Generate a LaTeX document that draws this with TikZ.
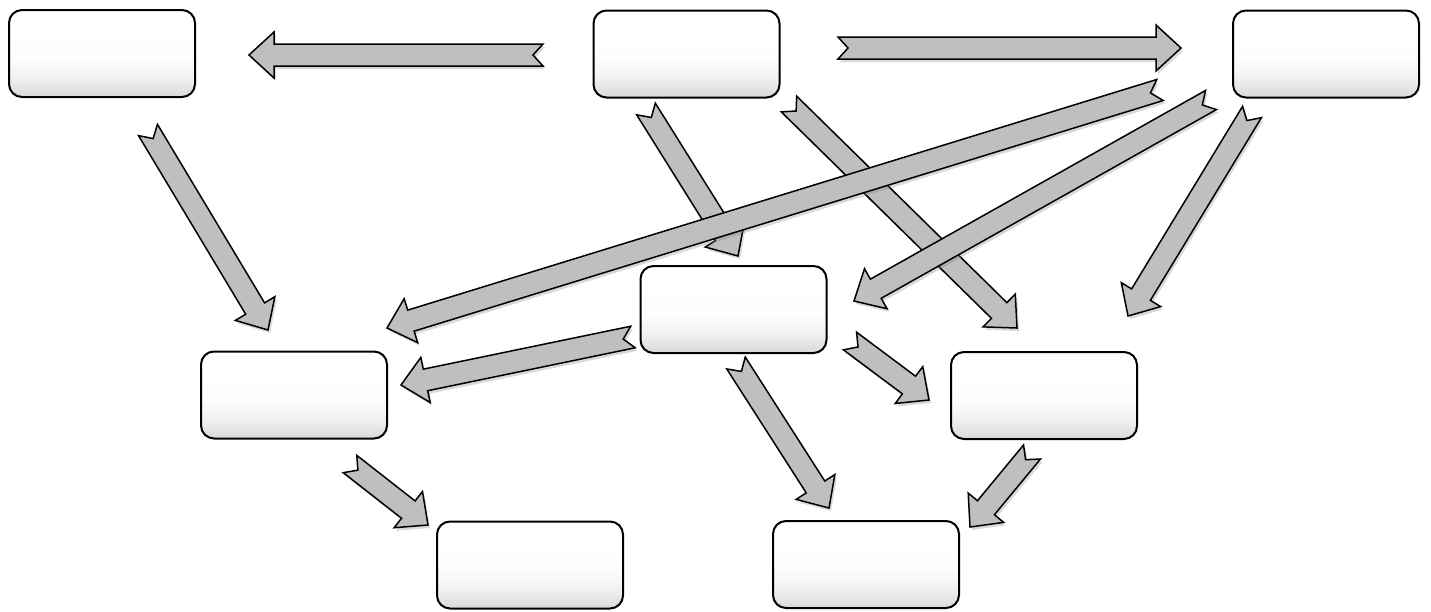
\documentclass[tikz,border=0pt]{standalone}
\usetikzlibrary{calc,shadows}
\definecolor{arrowfill}{RGB}{191,191,191}
\pgfdeclareverticalshading{boxshade}{100bp}{color(0bp)=(black!15); color(25bp)=(black!15); color(37bp)=(black!5); color(47bp)=(black!1); color(60bp)=(white); color(100bp)=(white)}
\tikzset{
  box/.style={draw=black, line width=2pt, rounded corners=13pt,
    minimum width=186pt, minimum height=87pt, inner sep=0pt,
    shading=boxshade},
  blockarrow/.style={draw=black, fill=arrowfill, line width=1.5pt, line join=miter,
    drop shadow={opacity=0.3, shadow xshift=2pt, shadow yshift=-3pt}},
}
\newcommand\blockarr[2]{%
  \coordinate (qq) at ($(#2)!25pt!(#1)$);
  \path[blockarrow] ($(#1)!11pt!90:(#2)$) -- ($(qq)!11pt!90:(#2)$)
    -- ($(qq)!23pt!90:(#2)$) -- (#2) -- ($(qq)!23pt!-90:(#2)$)
    -- ($(qq)!11pt!-90:(#2)$) -- ($(#1)!11pt!-90:(#2)$)
    -- ($(#1)!10pt!(#2)$) -- cycle;
}
\begin{document}
\begin{tikzpicture}[x=1pt,y=-1pt]
\useasboundingbox (0,0) rectangle (1431,611);
% boxes
\node[box] (A) at (102,53.5) {};
\node[box] (B) at (686.5,54) {};
\node[box] (C) at (1326,54) {};
\node[box] (D) at (733.5,309.5) {};
\node[box] (E) at (294,395) {};
\node[box] (F) at (1044,395.5) {};
\node[box] (G) at (530,565) {};
\node[box] (H) at (866,564.5) {};
% arrow ends
\coordinate (BAs) at (543,55);   \coordinate (BAe) at (249,55);
\coordinate (BCs) at (838,48);   \coordinate (BCe) at (1181,48);
\coordinate (AEs) at (148,130);  \coordinate (AEe) at (268,330);
\coordinate (BDs) at (646,109);  \coordinate (BDe) at (738,256);
\coordinate (BFs) at (789,104);  \coordinate (BFe) at (1017,328);
\coordinate (CEs) at (1160,90);  \coordinate (CEe) at (387,328);
\coordinate (CDs) at (1211,100); \coordinate (CDe) at (854,301);
\coordinate (CFs) at (1252,112); \coordinate (CFe) at (1128,316);
\coordinate (DEs) at (633,337);  \coordinate (DEe) at (401,385);
\coordinate (DFs) at (850,341);  \coordinate (DFe) at (929,400);
\coordinate (DHs) at (736,363);  \coordinate (DHe) at (829,508);
\coordinate (FHs) at (1032,452); \coordinate (FHe) at (970,527);
\coordinate (EGs) at (350,464);  \coordinate (EGe) at (428,525);
% arrows
\blockarr{BAs}{BAe}
\blockarr{BCs}{BCe}
\blockarr{AEs}{AEe}
\blockarr{BDs}{BDe}
\blockarr{BFs}{BFe}
\blockarr{CDs}{CDe}
\blockarr{CEs}{CEe}
\blockarr{CFs}{CFe}
\blockarr{DEs}{DEe}
\blockarr{DFs}{DFe}
\blockarr{DHs}{DHe}
\blockarr{FHs}{FHe}
\blockarr{EGs}{EGe}
\end{tikzpicture}
\end{document}
